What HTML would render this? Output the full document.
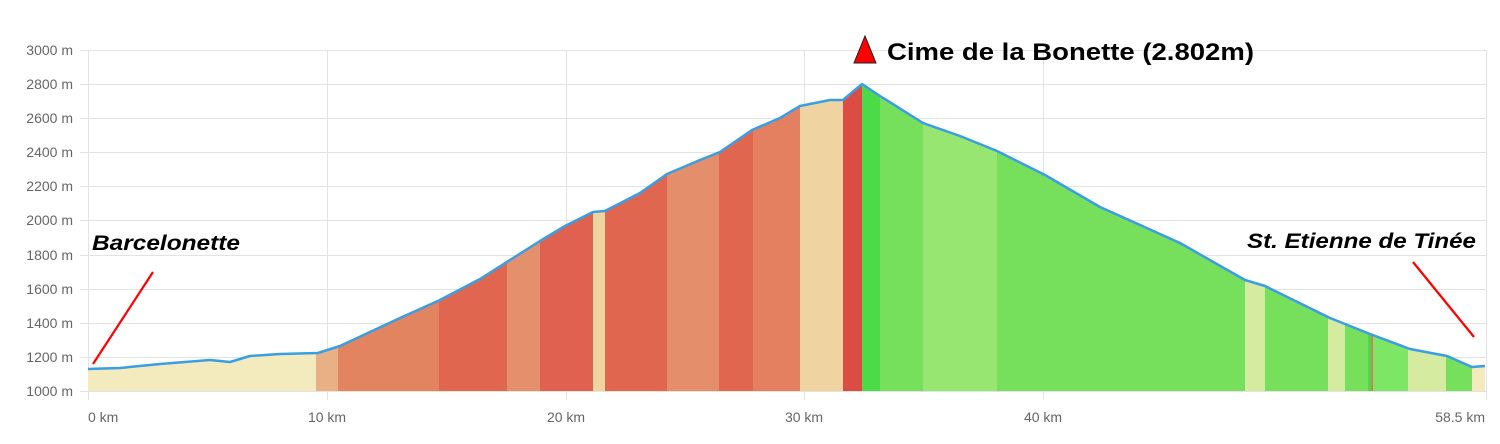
<!DOCTYPE html>
<html><head><meta charset="utf-8"><style>
html,body{margin:0;padding:0;background:#fff;}
svg{display:block;font-family:"Liberation Sans",sans-serif;}
</style></head><body>
<svg width="1500" height="444" viewBox="0 0 1500 444" xmlns="http://www.w3.org/2000/svg">
<defs>
<clipPath id="c"><polygon points="88,369 120,368 160,364 210,360 230,362 250,356 280,354 318,353 340,346 400,318 440,300 480,279 510,260 540,241 565,226 593,212 605,211 640,193 667,174 700,160 720,152 752,130 780,118 800,106 830,100 843,100 862,84 880,96 923,123 960,136 997,151 1045,175 1100,207 1180,243 1245,280 1265,286 1330,318 1370,334 1410,349 1447,356 1472,367 1485,366 1485,391 88,391"/></clipPath>
</defs>
<g stroke="#e3e3e3" stroke-width="1">
<line x1="80" y1="50.5" x2="1486" y2="50.5"/>
<line x1="80" y1="84.5" x2="1486" y2="84.5"/>
<line x1="80" y1="118.5" x2="1486" y2="118.5"/>
<line x1="80" y1="152.5" x2="1486" y2="152.5"/>
<line x1="80" y1="186.5" x2="1486" y2="186.5"/>
<line x1="80" y1="220.5" x2="1486" y2="220.5"/>
<line x1="80" y1="255.5" x2="1486" y2="255.5"/>
<line x1="80" y1="289.5" x2="1486" y2="289.5"/>
<line x1="80" y1="323.5" x2="1486" y2="323.5"/>
<line x1="80" y1="357.5" x2="1486" y2="357.5"/>
<line x1="80" y1="391.5" x2="1486" y2="391.5"/>
<line x1="88.5" y1="50" x2="88.5" y2="400"/>
<line x1="327.5" y1="50" x2="327.5" y2="400"/>
<line x1="566.5" y1="50" x2="566.5" y2="400"/>
<line x1="804.5" y1="50" x2="804.5" y2="400"/>
<line x1="1043.5" y1="50" x2="1043.5" y2="400"/>
<line x1="1486.5" y1="50" x2="1486.5" y2="400"/>
</g>
<g clip-path="url(#c)">
<rect x="88" y="50" width="228" height="342" fill="#f3ebbd"/>
<rect x="316" y="50" width="22" height="342" fill="#e8b084"/>
<rect x="338" y="50" width="101" height="342" fill="#e38461"/>
<rect x="439" y="50" width="68" height="342" fill="#e06650"/>
<rect x="507" y="50" width="33" height="342" fill="#e4906c"/>
<rect x="540" y="50" width="53" height="342" fill="#e0614f"/>
<rect x="593" y="50" width="12" height="342" fill="#efd4a2"/>
<rect x="605" y="50" width="62" height="342" fill="#e06650"/>
<rect x="667" y="50" width="52" height="342" fill="#e48e6b"/>
<rect x="719" y="50" width="34" height="342" fill="#e06650"/>
<rect x="753" y="50" width="47" height="342" fill="#e48060"/>
<rect x="800" y="50" width="43" height="342" fill="#efd4a2"/>
<rect x="843" y="50" width="19" height="342" fill="#dc4c42"/>
<rect x="862" y="50" width="18" height="342" fill="#4cdb48"/>
<rect x="880" y="50" width="43" height="342" fill="#76e05c"/>
<rect x="923" y="50" width="74" height="342" fill="#98e672"/>
<rect x="997" y="50" width="248" height="342" fill="#76e05c"/>
<rect x="1245" y="50" width="20" height="342" fill="#d4eba0"/>
<rect x="1265" y="50" width="63" height="342" fill="#76e05c"/>
<rect x="1328" y="50" width="17" height="342" fill="#d4eba0"/>
<rect x="1345" y="50" width="23" height="342" fill="#76e05c"/>
<rect x="1368" y="50" width="3" height="342" fill="#4cdb48"/>
<rect x="1371" y="50" width="2" height="342" fill="#d08060"/>
<rect x="1373" y="50" width="35" height="342" fill="#7ee665"/>
<rect x="1408" y="50" width="38" height="342" fill="#d4eba0"/>
<rect x="1446" y="50" width="26" height="342" fill="#76e05c"/>
<rect x="1472" y="50" width="14" height="342" fill="#f3ebbd"/>
</g>
<polyline fill="none" stroke="#3a9ee4" stroke-width="2.5" stroke-linejoin="round" points="88,369 120,368 160,364 210,360 230,362 250,356 280,354 318,353 340,346 400,318 440,300 480,279 510,260 540,241 565,226 593,212 605,211 640,193 667,174 700,160 720,152 752,130 780,118 800,106 830,100 843,100 862,84 880,96 923,123 960,136 997,151 1045,175 1100,207 1180,243 1245,280 1265,286 1330,318 1370,334 1410,349 1447,356 1472,367 1485,366"/>
<g fill="#666" font-size="14" text-anchor="end">
<text x="73" y="55">3000 m</text>
<text x="73" y="89">2800 m</text>
<text x="73" y="123">2600 m</text>
<text x="73" y="157">2400 m</text>
<text x="73" y="191">2200 m</text>
<text x="73" y="225">2000 m</text>
<text x="73" y="260">1800 m</text>
<text x="73" y="294">1600 m</text>
<text x="73" y="328">1400 m</text>
<text x="73" y="362">1200 m</text>
<text x="73" y="396">1000 m</text>
</g>
<g fill="#666" font-size="14">
<text x="88" y="422">0 km</text>
<text x="327" y="422" text-anchor="middle">10 km</text>
<text x="566" y="422" text-anchor="middle">20 km</text>
<text x="804" y="422" text-anchor="middle">30 km</text>
<text x="1043" y="422" text-anchor="middle">40 km</text>
<text x="1485" y="422" text-anchor="end">58.5 km</text>
</g>
<text x="92" y="250" font-size="21" font-weight="bold" font-style="italic" fill="#000" textLength="148" lengthAdjust="spacingAndGlyphs">Barcelonette</text>
<line x1="153" y1="272" x2="93" y2="364" stroke="#f00" stroke-width="2.2"/>
<text x="1247" y="248" font-size="21" font-weight="bold" font-style="italic" fill="#000" textLength="229" lengthAdjust="spacingAndGlyphs">St. Etienne de Tinée</text>
<line x1="1413" y1="262" x2="1474" y2="337" stroke="#f00" stroke-width="2.2"/>
<polygon points="854,63 865,36 876,63" fill="#f00" stroke="#222" stroke-width="1"/>
<text x="887" y="60" font-size="24" font-weight="bold" fill="#000" textLength="367" lengthAdjust="spacingAndGlyphs">Cime de la Bonette (2.802m)</text>
</svg>
</body></html>
